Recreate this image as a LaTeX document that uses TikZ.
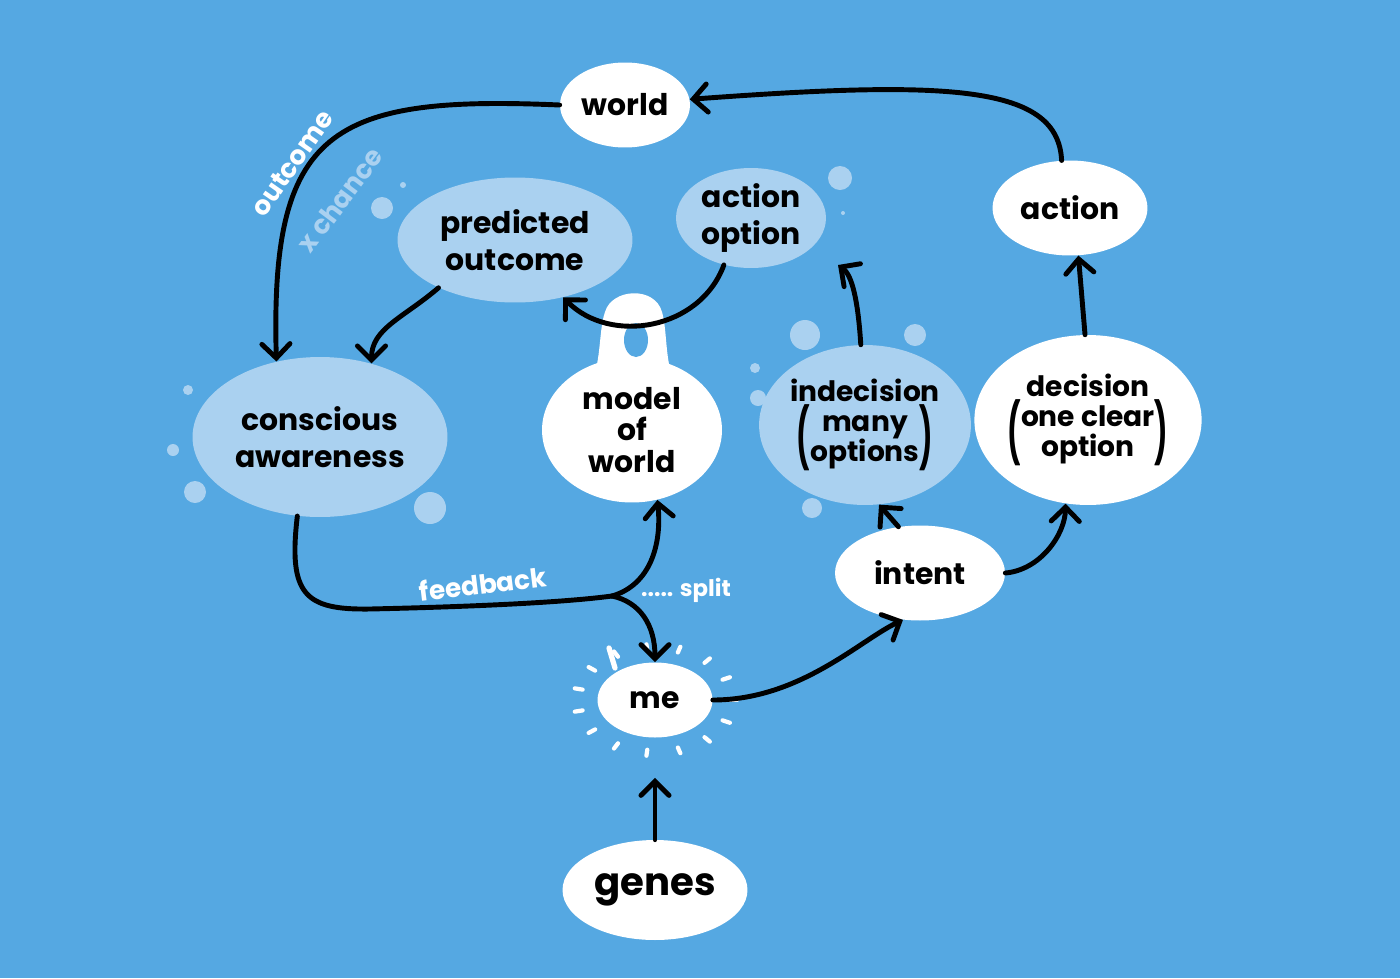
\documentclass[tikz,border=0pt]{standalone}
\usepackage{fontspec}
\setmainfont{Poppins}
\usetikzlibrary{arrows.meta,shapes.geometric}
\definecolor{SkyBg}{RGB}{85,168,226}
\definecolor{PaleBlob}{RGB}{170,209,240}
\newcommand{\tallparen}[1]{\raisebox{-0.42em}{\scalebox{1}[2.1]{#1}}}

\begin{document}
\begin{tikzpicture}[x=0.02cm,y=-0.02cm,
    wblob/.style={ellipse,fill=white,inner sep=0pt,align=center,
      font=\fontsize{17}{21}\selectfont\bfseries},
    pblob/.style={ellipse,fill=PaleBlob,inner sep=0pt,align=center,
      font=\fontsize{17}{21}\selectfont\bfseries},
    link/.style={black,line width=2.8pt,line cap=round,
      -{Straight Barb[length=8pt,width=16pt,line cap=round]}},
    speck/.style={fill=PaleBlob},
    ray/.style={white,line width=2.4pt,line cap=round},
    note/.style={white,font=\fontsize{15}{17}\selectfont\bfseries}
  ]
  % background
  \fill[SkyBg] (0,0) rectangle (1400,978);

  % pale specks
  \foreach \x/\y/\r in {188/390/5, 173/450/6, 195/492/11, 430/508/16,
                        382/208/11, 403/185/3, 840/178/12, 843/213/2,
                        805/335/15, 915/335/11, 755/368/5, 758/398/8, 812/508/10}
    \fill[speck] (\x,\y) circle[radius=\r];

  % handle of the model
  \fill[white] (588,388) .. controls (602,368) and (598,332) .. (605,312)
               .. controls (612,288) and (655,286) .. (662,312)
               .. controls (668,332) and (664,368) .. (678,388) -- cycle;
  \fill[SkyBg] (636,340) ellipse[x radius=12, y radius=17];

  % nodes
  \node[wblob,minimum width=2.6cm,minimum height=1.7cm] (world) at (625,105) {world};
  \node[wblob,minimum width=3.1cm,minimum height=1.9cm] (action) at (1070,208) {action};
  \node[pblob,minimum width=3.0cm,minimum height=2.0cm] (actopt) at (751,218) {action\\option};
  \node[pblob,minimum width=4.7cm,minimum height=2.5cm] (predout) at (515,240) {predicted\\outcome};
  \node[pblob,minimum width=5.1cm,minimum height=3.2cm] (aware) at (320,437) {conscious\\awareness};
  \node[wblob,minimum width=3.6cm,minimum height=2.9cm,
        font=\fontsize{17}{18}\selectfont\bfseries] (model) at (632,430) {model\\of\\world};
  \node[pblob,minimum width=4.0cm,minimum height=3.2cm,
        font=\fontsize{16}{19}\selectfont\bfseries] (indec) at (865,425)
    {indecision\\[1pt]\tallparen{(}\begin{tabular}{@{}c@{}}many\\[-2pt]options\end{tabular}\tallparen{)}};
  \node[wblob,minimum width=4.3cm,minimum height=3.4cm,
        font=\fontsize{16}{19}\selectfont\bfseries] (decis) at (1088,420)
    {decision\\[1pt]\tallparen{(}\begin{tabular}{@{}c@{}}one clear\\[-2pt]option\end{tabular}\tallparen{)}};
  \node[wblob,minimum width=3.4cm,minimum height=1.9cm] (intent) at (920,573) {intent};
  \node[wblob,minimum width=2.3cm,minimum height=1.5cm] (me) at (655,700) {me};
  \node[wblob,minimum width=3.7cm,minimum height=2.0cm,
        font=\fontsize{22}{24}\selectfont\bfseries] (genes) at (655,890) {genes};

  % rays round me
  \foreach \a in {0,24,...,336}
    \draw[ray] ({655+74*cos(\a)},{700+50*sin(\a)}) -- ({655+82*cos(\a)},{700+56*sin(\a)});
  \draw[ray,line width=3pt] (609,648) -- (615,668);

  \coordinate (opttip) at (838,265);
  \coordinate (split) at (612,596);

  % connectors
  \draw[link] (world.west) .. controls (330,95) and (270,130) .. (aware.120);
  \draw[link] (action.100) .. controls (1058,85) and (950,80) .. (world.5);
  \draw[link] (predout.212) .. controls +(-35,30) and +(0,-35) .. (aware.55);
  \draw[link] (actopt.240) .. controls (700,330) and (610,345) .. (predout.310);
  \draw[link] (indec.93) .. controls (858,300) and (852,275) .. (opttip);
  \draw[link] (decis.92) -- (action.-80);
  \draw[link] (intent.115) -- (indec.-80);
  \draw[link] (intent.east) .. controls (1040,570) and (1065,535) .. (decis.255);
  \draw[link] (me.east) .. controls (800,700) and (860,640) .. (intent.250);
  \draw[link,shorten >=0.8cm] (genes.north) -- (me.south);
  \draw[link,-] (aware.-106) .. controls (288,595) and (305,610) .. (370,609)
      .. controls (460,607) and (560,603) .. (split);
  \draw[link] (split) .. controls (650,585) and (662,545) .. (model.-70);
  \draw[link] (split) .. controls (640,602) and (655,625) .. (me.north);

  % labels
  \node[note,rotate=55] (outlbl) at (292,163) {outcome};
  \node[note,rotate=53,text=PaleBlob] (chancelbl) at (340,200) {x chance};
  \node[note,rotate=7] (fblbl) at (483,584) {feedback};
  \node[note,anchor=west,font=\fontsize{13}{15}\selectfont\bfseries] (splitlbl) at (635,590) {..... split};
\end{tikzpicture}
\end{document}
